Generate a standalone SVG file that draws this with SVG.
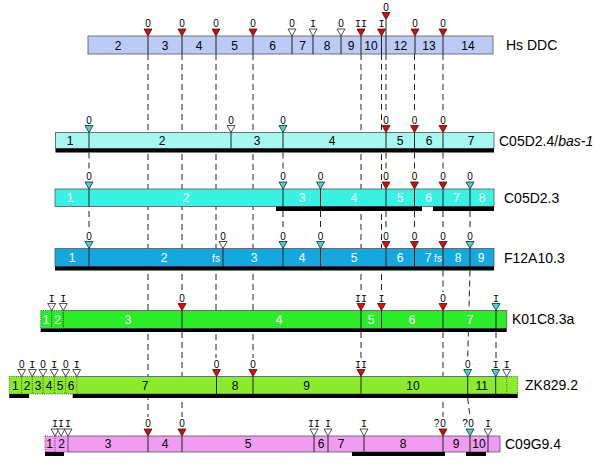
<svg xmlns="http://www.w3.org/2000/svg" width="600" height="469" viewBox="0 0 600 469">
<style>
.bg{fill:#fff}
.bar{stroke:#555;stroke-width:0.8}
.edge{fill:none;stroke:#555;stroke-width:0.8}
.dotb{stroke:#333;stroke-width:0.8;stroke-dasharray:1,1.2}
.blk{fill:#000}
.sep{stroke:#222;stroke-width:1;fill:none}
.dsep{stroke:#222;stroke-width:0.8;stroke-dasharray:1,1.2;fill:none}
.conn{stroke:#222;stroke-width:1;stroke-dasharray:6,4;fill:none}
.tr{stroke:#222;stroke-width:0.8}
.r{fill:#ee0000}
.c{fill:#3cd8d8}
.o{fill:#fff}
.n{font-family:"Liberation Sans",Arial,sans-serif;font-size:12px;text-anchor:middle;fill:#000}
.w{fill:#fff}
.fs{font-family:"Liberation Sans",Arial,sans-serif;font-size:10px;text-anchor:middle;fill:#fff}
.z{font-family:"Liberation Sans",Arial,sans-serif;font-size:10px;text-anchor:middle;fill:#000}
.i{font-family:"Liberation Mono","Courier New",monospace;font-size:10px;text-anchor:middle;fill:#000}
.g{font-family:"Liberation Sans",Arial,sans-serif;font-size:14px;fill:#000}
</style>
<rect class="bg" x="0" y="0" width="600" height="469"/>

<g id="connectors">
<path class="conn" d="M148,54V417"/>
<path class="conn" d="M182,54V292M182,332V417"/>
<path class="conn" d="M216,54V358"/>
<path class="conn" d="M253,54V358"/>
<path class="conn" d="M361,54V292M361,332V358"/>
<path class="conn" d="M381.5,54V292"/>
<path class="conn" d="M386,54V114M386,152.5V171M386,211V230"/>
<path class="conn" d="M414.5,54V114M414.5,152.5V171M414.5,211V230"/>
<path class="conn" d="M443,54V114M443,152.5V171M443,211V230M443,270.5V292M443,332V417"/>
<path class="conn" d="M89,152.5V171M89,211V230"/>
<path class="conn" d="M283,152.5V171M283,211V230"/>
<path class="conn" d="M320.5,211V230"/>
<path class="conn" d="M470,211V230M470,270.5L467.7,358M467.7,398L470,417"/>
<path class="conn" d="M496,332V358"/>
</g>

<g id="hs-ddc">
<rect class="bar" x="88" y="36" width="405" height="18" fill="#bccbf6"/>
<path class="sep" d="M148,36V54M182,36V54M216,36V54M253,36V54M292,36V54M313,36V54M341,36V54M361,36V54M381.5,36V54M386,19.5V54M415,36V54M443,36V54"/>
<path class="tr r" d="M144,29h8l-4,7z"/>
<path class="tr r" d="M178,29h8l-4,7z"/>
<path class="tr r" d="M212,29h8l-4,7z"/>
<path class="tr r" d="M249,29h8l-4,7z"/>
<path class="tr o" d="M288,29h8l-4,7z"/>
<path class="tr o" d="M309,29h8l-4,7z"/>
<path class="tr o" d="M337,29h8l-4,7z"/>
<path class="tr r" d="M357,29h8l-4,7z"/>
<path class="tr r" d="M377.5,29h8l-4,7z"/>
<path class="tr r" d="M411,29h8l-4,7z"/>
<path class="tr r" d="M439,29h8l-4,7z"/>
<path class="tr r" d="M382,12.5h8l-4,7z"/>
<text class="z" x="148" y="27">0</text>
<text class="z" x="182" y="27">0</text>
<text class="z" x="216" y="27">0</text>
<text class="z" x="253" y="27">0</text>
<text class="z" x="292" y="27">0</text>
<text class="i" x="313" y="27">I</text>
<text class="z" x="341" y="27">0</text>
<text class="i" x="361" y="27">II</text>
<text class="i" x="381.5" y="27">I</text>
<text class="z" x="386" y="10.5">0</text>
<text class="z" x="415" y="27">0</text>
<text class="z" x="443" y="27">0</text>
<text class="n" x="118" y="49.5">2</text>
<text class="n" x="165" y="49.5">3</text>
<text class="n" x="199" y="49.5">4</text>
<text class="n" x="234.5" y="49.5">5</text>
<text class="n" x="272.5" y="49.5">6</text>
<text class="n" x="302.5" y="49.5">7</text>
<text class="n" x="327" y="49.5">8</text>
<text class="n" x="351" y="49.5">9</text>
<text class="n" x="371" y="49.5">10</text>
<text class="n" x="400.5" y="49.5">12</text>
<text class="n" x="429" y="49.5">13</text>
<text class="n" x="468" y="49.5">14</text>
<text class="g" x="506" y="50">Hs DDC</text>
</g>

<g id="c05d2-4">
<rect class="bar" x="55.5" y="132.5" width="438.5" height="16" fill="#a5f7f0"/>
<rect class="blk" x="55.5" y="148.5" width="438.5" height="4"/>
<path class="sep" d="M89,132.5V148.5M231,132.5V148.5M283,132.5V148.5M386,132.5V148.5M414.5,132.5V148.5M443,132.5V148.5"/>
<path class="tr c" d="M85,125.5h8l-4,7z"/>
<path class="tr o" d="M227,125.5h8l-4,7z"/>
<path class="tr c" d="M279,125.5h8l-4,7z"/>
<path class="tr r" d="M382,125.5h8l-4,7z"/>
<path class="tr r" d="M410.5,125.5h8l-4,7z"/>
<path class="tr r" d="M439,125.5h8l-4,7z"/>
<text class="z" x="89" y="123.5">0</text>
<text class="z" x="231" y="123.5">0</text>
<text class="z" x="283" y="123.5">0</text>
<text class="z" x="386" y="123.5">0</text>
<text class="z" x="414.5" y="123.5">0</text>
<text class="z" x="443" y="123.5">0</text>
<text class="n" x="70" y="145">1</text>
<text class="n" x="162" y="145">2</text>
<text class="n" x="257" y="145">3</text>
<text class="n" x="332" y="145">4</text>
<text class="n" x="400" y="145">5</text>
<text class="n" x="429" y="145">6</text>
<text class="n" x="471" y="145">7</text>
<text class="g" x="499" y="146">C05D2.4/<tspan font-style="italic">bas-1</tspan></text>
</g>

<g id="c05d2-3">
<rect class="bar" x="55" y="189" width="439" height="17.5" fill="#3cf0e4"/>
<rect class="blk" x="276" y="206.5" width="146" height="4.5"/>
<rect class="blk" x="433" y="206.5" width="61" height="4.5"/>
<path class="sep" d="M89,189V206.5M283,189V206.5M320.5,189V206.5M386,189V206.5M414.5,189V206.5M443,189V206.5M470,189V206.5"/>
<path class="tr c" d="M85,182h8l-4,7z"/>
<path class="tr c" d="M279,182h8l-4,7z"/>
<path class="tr c" d="M316.5,182h8l-4,7z"/>
<path class="tr r" d="M382,182h8l-4,7z"/>
<path class="tr r" d="M410.5,182h8l-4,7z"/>
<path class="tr r" d="M439,182h8l-4,7z"/>
<path class="tr c" d="M466,182h8l-4,7z"/>
<text class="z" x="89" y="180">0</text>
<text class="z" x="283" y="180">0</text>
<text class="z" x="320.5" y="180">0</text>
<text class="z" x="386" y="180">0</text>
<text class="z" x="414.5" y="180">0</text>
<text class="z" x="443" y="180">0</text>
<text class="z" x="470" y="180">0</text>
<text class="n w" x="70" y="202">1</text>
<text class="n w" x="186" y="202">2</text>
<text class="n w" x="302" y="202">3</text>
<text class="n w" x="354" y="202">4</text>
<text class="n w" x="400" y="202">5</text>
<text class="n w" x="428.5" y="202">6</text>
<text class="n w" x="456.5" y="202">7</text>
<text class="n w" x="482" y="202">8</text>
<text class="g" x="504" y="203">C05D2.3</text>
</g>

<g id="f12a10-3">
<rect class="bar" x="55" y="248.5" width="439" height="18" fill="#14a9dc"/>
<rect class="blk" x="55" y="266.5" width="439" height="4"/>
<path class="sep" d="M89,248.5V266.5M223,248.5V266.5M283,248.5V266.5M320.5,248.5V266.5M386,248.5V266.5M414.5,248.5V266.5M443,248.5V266.5M470,248.5V266.5"/>
<path class="tr c" d="M85,241.5h8l-4,7z"/>
<path class="tr o" d="M219,241.5h8l-4,7z"/>
<path class="tr c" d="M279,241.5h8l-4,7z"/>
<path class="tr c" d="M316.5,241.5h8l-4,7z"/>
<path class="tr r" d="M382,241.5h8l-4,7z"/>
<path class="tr r" d="M410.5,241.5h8l-4,7z"/>
<path class="tr r" d="M439,241.5h8l-4,7z"/>
<path class="tr c" d="M466,241.5h8l-4,7z"/>
<text class="z" x="89" y="239.5">0</text>
<text class="z" x="223" y="239.5">0</text>
<text class="z" x="283" y="239.5">0</text>
<text class="z" x="320.5" y="239.5">0</text>
<text class="z" x="386" y="239.5">0</text>
<text class="z" x="414.5" y="239.5">0</text>
<text class="z" x="443" y="239.5">0</text>
<text class="z" x="470" y="239.5">0</text>
<text class="n w" x="72" y="262">1</text>
<text class="n w" x="164" y="262">2</text>
<text class="fs" x="216" y="262">fs</text>
<text class="n w" x="254" y="262">3</text>
<text class="n w" x="302" y="262">4</text>
<text class="n w" x="354" y="262">5</text>
<text class="n w" x="400" y="262">6</text>
<text class="n w" x="428" y="262">7</text>
<text class="fs" x="438" y="262">fs</text>
<text class="n w" x="458" y="262">8</text>
<text class="n w" x="481" y="262">9</text>
<text class="g" x="504" y="263">F12A10.3</text>
</g>

<g id="k01c8-3a">
<rect x="63.3" y="310.5" width="443.4" height="18" fill="#2aed2a"/>
<path class="edge" d="M63.3,310.5H506.7V328.5H63.3"/>
<rect class="dotb" x="40.7" y="310.5" width="22.6" height="18" fill="#2aed2a"/>
<rect class="blk" x="40.7" y="328.5" width="466" height="3.5"/>
<path class="dsep" d="M51.7,310.5V328.5M63.3,310.5V328.5"/>
<path class="sep" d="M182,310.5V328.5M361,310.5V328.5M381.5,310.5V328.5M443,310.5V328.5M496,310.5V328.5"/>
<path class="tr o" d="M47.7,303.5h8l-4,7z"/>
<path class="tr o" d="M59.3,303.5h8l-4,7z"/>
<path class="tr r" d="M178,303.5h8l-4,7z"/>
<path class="tr r" d="M357,303.5h8l-4,7z"/>
<path class="tr r" d="M377.5,303.5h8l-4,7z"/>
<path class="tr r" d="M439,303.5h8l-4,7z"/>
<path class="tr c" d="M492,303.5h8l-4,7z"/>
<text class="i" x="51.7" y="301.5">I</text>
<text class="i" x="63.3" y="301.5">I</text>
<text class="z" x="182" y="301.5">0</text>
<text class="i" x="361" y="301.5">II</text>
<text class="i" x="381.5" y="301.5">I</text>
<text class="z" x="443" y="301.5">0</text>
<text class="i" x="496" y="301.5">I</text>
<text class="n w" x="46" y="324">1</text>
<text class="n w" x="57.5" y="324">2</text>
<text class="n w" x="128" y="324">3</text>
<text class="n w" x="279" y="324">4</text>
<text class="n w" x="371" y="324">5</text>
<text class="n w" x="412" y="324">6</text>
<text class="n w" x="470" y="324">7</text>
<text class="g" x="512" y="324">K01C8.3a</text>
</g>

<g id="zk829-2">
<rect x="76.7" y="376.5" width="430" height="17.5" fill="#8aec2a"/>
<path class="edge" d="M76.7,376.5H506.7M76.7,394H506.7"/>
<rect class="dotb" x="9.3" y="376.5" width="67.4" height="17.5" fill="#8aec2a"/>
<rect class="dotb" x="506.7" y="376.5" width="11" height="17.5" fill="#8aec2a"/>
<rect class="blk" x="9.3" y="394" width="19.7" height="4"/>
<rect class="blk" x="72.7" y="394" width="445" height="4"/>
<path class="dsep" d="M21.7,376.5V394M32.3,376.5V394M43,376.5V394M54.3,376.5V394M65.7,376.5V394"/>
<path class="sep" d="M216.5,376.5V394M253,376.5V394M361,376.5V394M467.7,376.5V394M495.7,376.5V394"/>
<path class="tr o" d="M17.7,369.5h8l-4,7z"/>
<path class="tr o" d="M28.3,369.5h8l-4,7z"/>
<path class="tr o" d="M39,369.5h8l-4,7z"/>
<path class="tr o" d="M50.3,369.5h8l-4,7z"/>
<path class="tr o" d="M61.7,369.5h8l-4,7z"/>
<path class="tr o" d="M72.7,369.5h8l-4,7z"/>
<path class="tr r" d="M212.5,369.5h8l-4,7z"/>
<path class="tr r" d="M249,369.5h8l-4,7z"/>
<path class="tr r" d="M357,369.5h8l-4,7z"/>
<path class="tr c" d="M463.7,369.5h8l-4,7z"/>
<path class="tr c" d="M491.7,369.5h8l-4,7z"/>
<path class="tr o" d="M502.7,369.5h8l-4,7z"/>
<text class="z" x="21.7" y="367.5">0</text>
<text class="i" x="32.3" y="367.5">I</text>
<text class="z" x="43" y="367.5">0</text>
<text class="i" x="54.3" y="367.5">I</text>
<text class="z" x="65.7" y="367.5">0</text>
<text class="i" x="76.7" y="367.5">I</text>
<text class="z" x="216.5" y="367.5">0</text>
<text class="z" x="253" y="367.5">0</text>
<text class="i" x="361" y="367.5">II</text>
<text class="z" x="467.7" y="367.5">0</text>
<text class="i" x="495.7" y="367.5">I</text>
<text class="i" x="506.7" y="367.5">I</text>
<text class="n" x="15.3" y="390">1</text>
<text class="n" x="27.2" y="390">2</text>
<text class="n" x="38" y="390">3</text>
<text class="n" x="49" y="390">4</text>
<text class="n" x="60" y="390">5</text>
<text class="n" x="71" y="390">6</text>
<text class="n" x="145" y="390">7</text>
<text class="n" x="235" y="390">8</text>
<text class="n" x="306.7" y="390">9</text>
<text class="n" x="413" y="390">10</text>
<text class="n" x="481.7" y="390">11</text>
<text class="g" x="525" y="390">ZK829.2</text>
</g>

<g id="c09g9-4">
<rect x="68" y="436" width="432" height="16" fill="#f09cf0"/>
<path class="edge" d="M68,436H500V452H68"/>
<rect class="dotb" x="45" y="436" width="23" height="16" fill="#f09cf0"/>
<rect class="blk" x="45" y="452" width="19" height="4"/>
<rect class="blk" x="352" y="452" width="93" height="4"/>
<rect class="blk" x="466" y="452" width="20" height="4"/>
<path class="dsep" d="M55,436V452M68,436V452"/>
<path class="sep" d="M148,436V452M182,436V452M314,436V452M328,436V452M364,436V452M443,436V452M470,436V452M488,436V452"/>
<path class="tr o" d="M51,429h8l-4,7z"/>
<path class="tr o" d="M57,429h8l-4,7z"/>
<path class="tr o" d="M64,429h8l-4,7z"/>
<path class="tr r" d="M144,429h8l-4,7z"/>
<path class="tr r" d="M178,429h8l-4,7z"/>
<path class="tr o" d="M310,429h8l-4,7z"/>
<path class="tr o" d="M324,429h8l-4,7z"/>
<path class="tr o" d="M360,429h8l-4,7z"/>
<path class="tr r" d="M439,429h8l-4,7z"/>
<path class="tr c" d="M466,429h8l-4,7z"/>
<path class="tr o" d="M484,429h8l-4,7z"/>
<text class="i" x="55" y="427">I</text>
<text class="i" x="61" y="427">I</text>
<text class="i" x="68" y="427">I</text>
<text class="z" x="148" y="427">0</text>
<text class="z" x="182" y="427">0</text>
<text class="i" x="314" y="427">II</text>
<text class="i" x="328" y="427">I</text>
<text class="i" x="364" y="427">I</text>
<text class="z" x="436.5" y="427">?</text>
<text class="z" x="443" y="427">0</text>
<text class="z" x="465" y="427">?</text>
<text class="z" x="471" y="427">0</text>
<text class="i" x="488" y="427">I</text>
<text class="n" x="49.5" y="448">1</text>
<text class="n" x="61.5" y="448">2</text>
<text class="n" x="108" y="448">3</text>
<text class="n" x="165" y="448">4</text>
<text class="n" x="248" y="448">5</text>
<text class="n" x="321" y="448">6</text>
<text class="n" x="341" y="448">7</text>
<text class="n" x="403" y="448">8</text>
<text class="n" x="456" y="448">9</text>
<text class="n" x="479" y="448">10</text>
<text class="g" x="505" y="449">C09G9.4</text>
</g>
</svg>
